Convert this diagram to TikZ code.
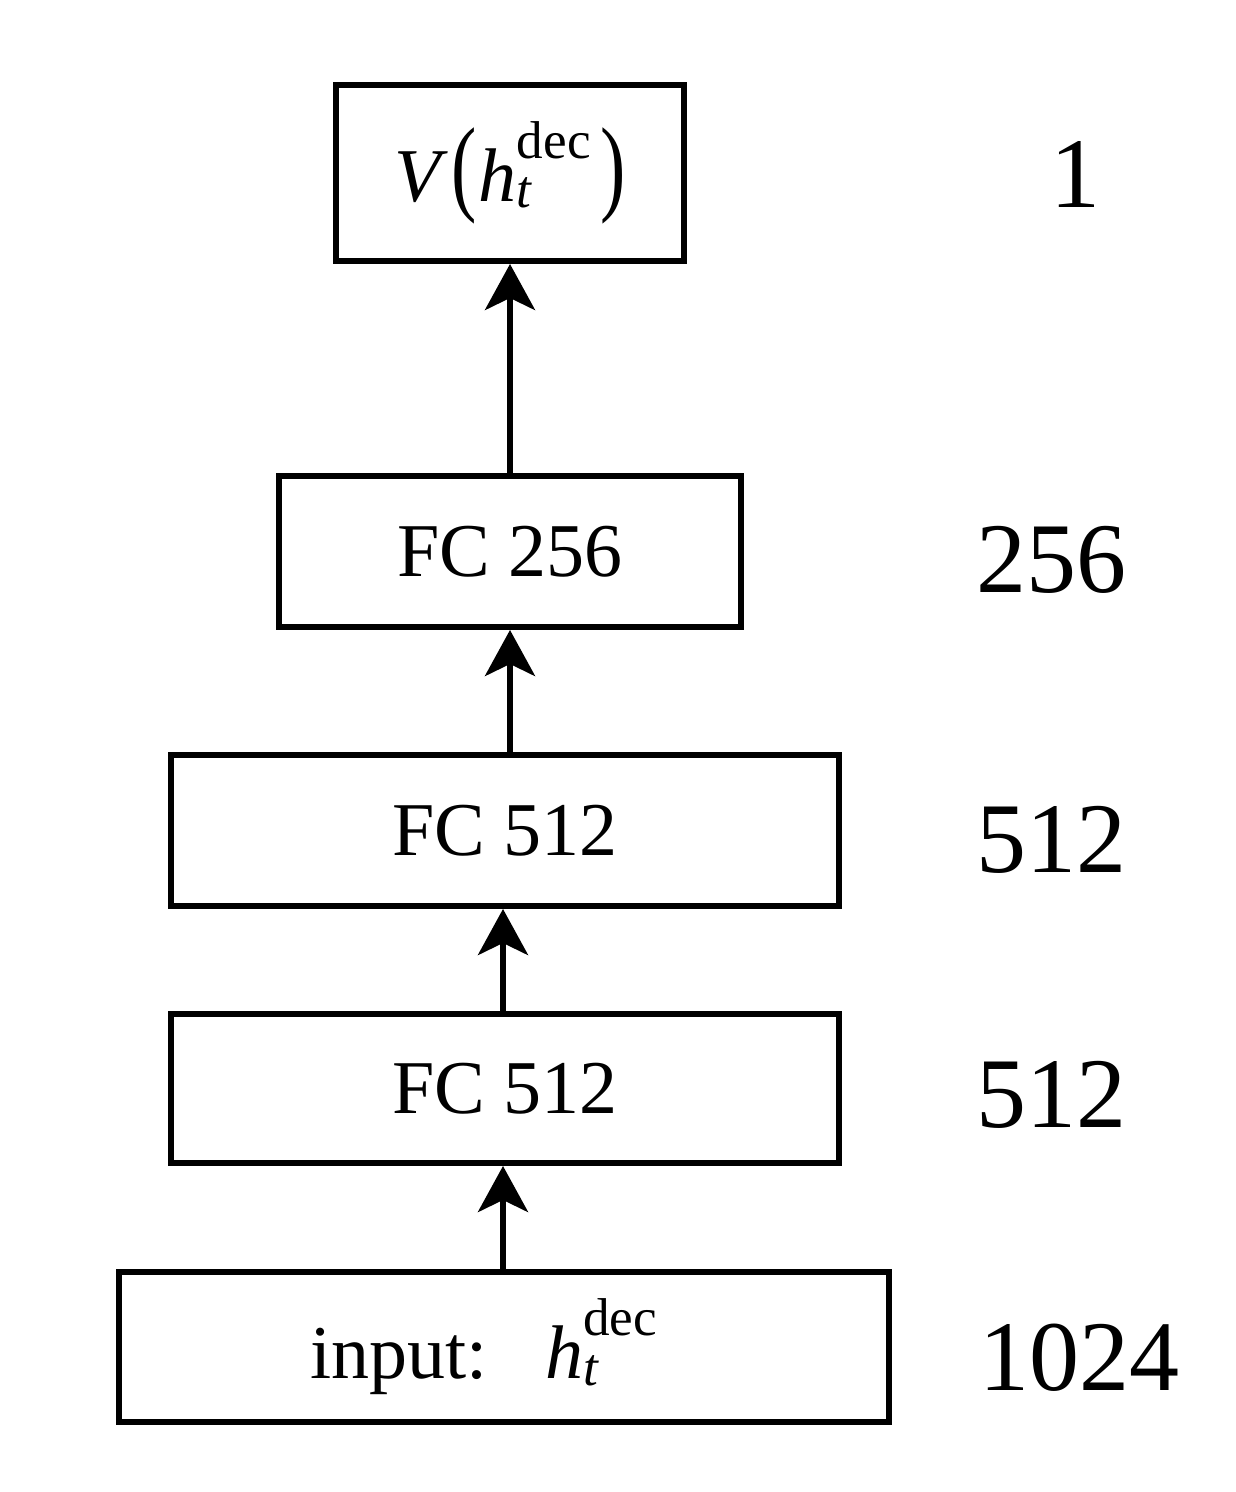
\documentclass[tikz,border=0pt]{standalone}
\usepackage{amsmath}
\usepackage{graphicx}
\usepackage{fontspec}
\setmainfont{Liberation Serif}
\usetikzlibrary{arrows.meta}
\tikzset{
  layer/.style={draw, line width=6pt, inner sep=0pt, font=\fontsize{76}{90}\selectfont},
  dimlabel/.style={anchor=base, inner sep=0pt, font=\fontsize{100}{120}\selectfont},
  arr/.style={line width=5.5pt, -{Stealth[length=46pt, width=50pt, inset=12pt]}}
}
\newcommand{\bigparen}[1]{\scalebox{1}[1.4]{#1}}
\begin{document}
\begin{tikzpicture}[x=1pt,y=-1pt]
\useasboundingbox (0,0) rectangle (1236,1492);
\node[layer, minimum width=348pt, minimum height=176pt] (v) at (510,173)
  {\textit{V}\hspace{0.05em}\bigparen{(}\hspace{0.02em}$\textit{h}_{\textit{t}}^{\text{dec}}$\hspace{0.12em}\bigparen{)}};
\node[layer, minimum width=462pt, minimum height=151pt] (fc3) at (510,551.5) {FC 256};
\node[layer, minimum width=668pt, minimum height=151pt] (fc2) at (505,830.5) {FC 512};
\node[layer, minimum width=668pt, minimum height=149pt] (fc1) at (505,1088.5) {FC 512};
\node[layer, minimum width=770pt, minimum height=150pt] (in) at (504,1347)
  {\hspace*{-40pt}input:\hspace{0.75em}$\textit{h}_{\textit{t}}^{\text{dec}}$};

\draw[arr] ([xshift=-1pt]in.north) -- ([xshift=-1pt]in.north |- fc1.south);
\draw[arr] ([xshift=-2pt]fc1.north) -- ([xshift=-2pt]fc1.north |- fc2.south);
\draw[arr] (fc3.south |- fc2.north) -- (fc3.south);
\draw[arr] (fc3.north) -- (v.south);

\node[dimlabel] (l1) at (1075,207) {1};
\node[dimlabel] (l2) at (1051,592) {256};
\node[dimlabel] (l3) at (1051,872) {512};
\node[dimlabel] (l4) at (1051,1127) {512};
\node[dimlabel] (l5) at (1079,1390) {1024};
\end{tikzpicture}
\end{document}
